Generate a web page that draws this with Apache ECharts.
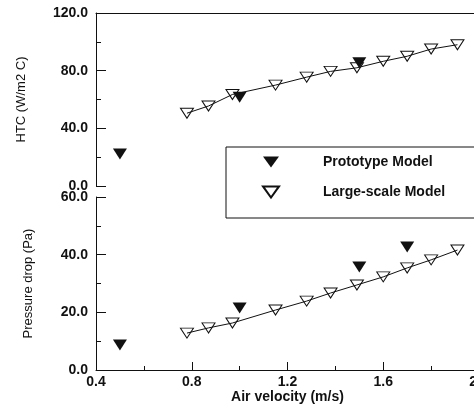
<!doctype html>
<html lang="en">
<head>
  <meta charset="UTF-8">
  <title>HTC and pressure drop</title>
  <script src="https://cdn.jsdelivr.net/npm/echarts@6/dist/echarts.min.js"></script>
  <style>
    html, body { margin: 0; padding: 0; background: #fff; }
    #chart { width: 474px; height: 408px; }
  </style>
</head>
<body>
<div id="chart"></div>
<script>
  // air velocity (m/s)
  var largeV = [0.78, 0.87, 0.97, 1.15, 1.28, 1.38, 1.49, 1.60, 1.70, 1.80, 1.91];
  var largeHTC = [50.5, 55.5, 63.5, 70.0, 75.5, 79.5, 82.0, 86.5, 90.0, 95.0, 98.0];
  var largeDP = [12.8, 14.6, 16.3, 20.8, 23.9, 26.7, 29.5, 32.3, 35.4, 38.2, 41.6];

  var protoV_HTC = [0.5, 1.0, 1.5];
  var protoHTC = [22.2, 61.5, 85.5];
  var protoV_DP = [0.5, 1.0, 1.5, 1.7];
  var protoDP = [8.7, 21.5, 35.7, 42.7];

  var xTicks = [0.4, 0.8, 1.2, 1.6, 2.0];

  function pairs(xs, ys) {
    return xs.map(function (x, i) { return [x, ys[i]]; });
  }

  var FONT = 'Liberation Sans';
  var INK = '#111';
  var DOWN_TRI = 'path://M0,0 L20,0 L10,14 Z';

  function yAxis(idx, max, step, name, gap) {
    return {
      type: 'value', gridIndex: idx, min: 0, max: max, interval: step,
      name: name, nameLocation: 'middle', nameGap: gap, nameRotate: 90,
      nameTextStyle: { fontFamily: FONT, fontSize: 13, color: INK },
      axisLine: { show: true, onZero: false, lineStyle: { color: INK, width: 1 } },
      axisTick: { show: true, inside: true, length: 10, lineStyle: { color: INK } },
      minorTick: { show: true, splitNumber: 2, length: 5, lineStyle: { color: INK } },
      axisLabel: {
        margin: 8, fontFamily: FONT, fontSize: 14, fontWeight: 'bold', color: INK,
        formatter: function (v) { return v.toFixed(1); }
      },
      splitLine: { show: false }
    };
  }

  var chart = echarts.init(document.getElementById('chart'));
  chart.setOption({
    animation: false,
    backgroundColor: '#fff',
    grid: [
      { left: 96, top: 13, width: 383, height: 173, outerBoundsMode: 'none', containLabel: false },
      { left: 96, top: 197, width: 383, height: 173, outerBoundsMode: 'none', containLabel: false }
    ],
    xAxis: [
      {
        type: 'value', gridIndex: 0, min: 0.4, max: 2.0, interval: 0.4, position: 'top',
        axisLine: { show: true, onZero: false, lineStyle: { color: INK, width: 1 } },
        axisTick: { show: false }, axisLabel: { show: false }, splitLine: { show: false }
      },
      {
        type: 'value', gridIndex: 1, min: xTicks[0], max: xTicks[xTicks.length - 1], interval: 0.4,
        name: 'Air velocity (m/s)', nameLocation: 'middle', nameGap: 20,
        nameTextStyle: { fontFamily: FONT, fontSize: 14, fontWeight: 'bold', color: INK },
        axisLine: { show: true, onZero: false, lineStyle: { color: INK, width: 1 } },
        axisTick: { show: true, inside: true, length: 8, lineStyle: { color: INK } },
        minorTick: { show: true, splitNumber: 2, length: 4, lineStyle: { color: INK } },
        axisLabel: {
          margin: 5, fontFamily: FONT, fontSize: 14, fontWeight: 'bold', color: INK,
          formatter: function (v) { return v.toFixed(1); }
        },
        splitLine: { show: false }
      }
    ],
    yAxis: [
      yAxis(0, 120, 40, 'HTC (W/m2 C)', 68),
      yAxis(1, 60, 20, 'Pressure drop (Pa)', 61)
    ],
    legend: {
      data: [
        { name: 'Prototype Model', icon: DOWN_TRI },
        { name: 'Large-scale Model', icon: DOWN_TRI }
      ],
      orient: 'vertical', left: 226, top: 147,
      padding: [8, 80, 19, 36], itemGap: 16,
      itemWidth: 16, itemHeight: 12,
      borderColor: INK, borderWidth: 1, borderRadius: 0,
      backgroundColor: '#fff',
      textStyle: { fontFamily: FONT, fontSize: 14, fontWeight: 'bold', color: INK, padding: [0, 0, 0, 39] }
    },
    series: [
      {
        type: 'line', xAxisIndex: 0, yAxisIndex: 0, data: pairs(largeV, largeHTC),
        symbol: 'none', lineStyle: { color: INK, width: 1 }, silent: true
      },
      {
        type: 'line', xAxisIndex: 1, yAxisIndex: 1, data: pairs(largeV, largeDP),
        symbol: 'none', lineStyle: { color: INK, width: 1 }, silent: true
      },
      {
        name: 'Large-scale Model', type: 'scatter', xAxisIndex: 0, yAxisIndex: 0,
        data: pairs(largeV, largeHTC), symbol: 'triangle', symbolRotate: 180, symbolSize: [13, 10],
        itemStyle: { color: '#fff', borderColor: INK, borderWidth: 1, opacity: 1 }
      },
      {
        name: 'Large-scale Model', type: 'scatter', xAxisIndex: 1, yAxisIndex: 1,
        data: pairs(largeV, largeDP), symbol: 'triangle', symbolRotate: 180, symbolSize: [13, 10],
        itemStyle: { color: '#fff', borderColor: INK, borderWidth: 1, opacity: 1 }
      },
      {
        name: 'Prototype Model', type: 'scatter', xAxisIndex: 0, yAxisIndex: 0,
        data: pairs(protoV_HTC, protoHTC), symbol: 'triangle', symbolRotate: 180, symbolSize: [14, 11],
        itemStyle: { color: INK, opacity: 1 }
      },
      {
        name: 'Prototype Model', type: 'scatter', xAxisIndex: 1, yAxisIndex: 1,
        data: pairs(protoV_DP, protoDP), symbol: 'triangle', symbolRotate: 180, symbolSize: [14, 11],
        itemStyle: { color: INK, opacity: 1 }
      }
    ]
  });
</script>
</body>
</html>
